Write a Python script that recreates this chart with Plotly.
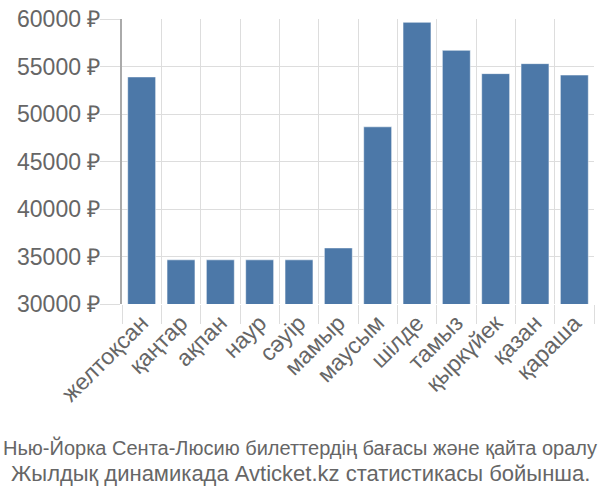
import plotly.graph_objects as go

months = ["желтоқсан", "қаңтар", "ақпан", "наур", "сәуір", "мамыр",
          "маусым", "шілде", "тамыз", "қыркүйек", "қазан", "қараша"]
prices = [53900, 34650, 34650, 34650, 34650, 35900,
          48650, 59650, 56700, 54250, 55300, 54100]
y_ticks = [30000, 35000, 40000, 45000, 50000, 55000, 60000]
y_tick_labels = [f"{v} ₽" for v in y_ticks]
title_lines = ["Нью-Йорка Сента-Люсию билеттердің бағасы және қайта оралу",
               "Жылдық динамикада Avticket.kz статистикасы бойынша."]

fig = go.Figure(go.Bar(
    x=months, y=prices,
    marker=dict(color="#4c78a8", line=dict(color="rgba(255,255,255,0.5)", width=1)),
    hoverinfo="skip",
))

font_family = "Liberation Sans, Arial, sans-serif"
L, R, T, B = 122, 6, 14, 196
plot_bottom = 500 - B
fig.update_layout(
    width=600, height=500,
    margin=dict(l=L, r=R, t=T, b=B),
    plot_bgcolor="white", paper_bgcolor="white",
    bargap=0.29,
    showlegend=False,
    font=dict(family=font_family, color="#666666", size=20),
    xaxis=dict(
        tickangle=-45, tickson="boundaries", ticks="outside", ticklen=19,
        tickcolor="#dddddd", showgrid=True, gridcolor="#dddddd", gridwidth=1,
        tickfont=dict(size=23, color="#666666"), showline=False,
    ),
    yaxis=dict(
        range=[30000, 60000], tickvals=y_ticks, ticktext=y_tick_labels,
        ticks="outside", ticklen=20, tickcolor="#dddddd",
        ticklabelstandoff=-5,
        showgrid=True, gridcolor="#dddddd", gridwidth=1,
        showline=True, linecolor="#aaaaaa", linewidth=2,
        tickfont=dict(size=23, color="#666666"), zeroline=False,
    ),
    annotations=[
        dict(text=title_lines[0],
             x=(300 - L) / (600 - L - R), xref="paper", xanchor="center",
             y=0, yref="paper", yanchor="middle", yshift=-(447 - plot_bottom),
             showarrow=False, align="center",
             font=dict(size=20, color="#666666", family=font_family)),
        dict(text=title_lines[1],
             x=(300 - L) / (600 - L - R), xref="paper", xanchor="center",
             y=0, yref="paper", yanchor="middle", yshift=-(473 - plot_bottom),
             showarrow=False, align="center",
             font=dict(size=22, color="#666666", family=font_family)),
    ],
)

fig.write_html("out.html")
